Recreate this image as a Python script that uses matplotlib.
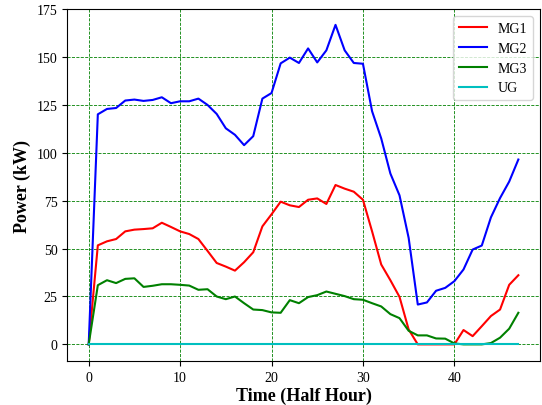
import numpy as np
import matplotlib
matplotlib.use("Agg")
import matplotlib.pyplot as plt

plt.rcParams['font.family'] = ['Liberation Serif', 'DejaVu Serif']

# half-hour slots 0..47
t = np.arange(48)

mg1 = [0, 51.7, 53.8, 55.0, 59.0, 59.9, 60.2, 60.6, 63.5, 61.3,
       59.0, 57.6, 55.0, 48.8, 42.5, 40.6, 38.5, 42.9, 48.1, 61.6,
       67.9, 74.5, 72.6, 71.7, 75.5, 76.2, 73.3, 83.2, 81.3, 79.7,
       75.5, 59.0, 41.7, 33.5, 24.8, 7.8, 0, 0, 0, 0,
       0, 7.5, 4.3, 9.5, 14.8, 18.2, 31.1, 36.1]
mg2 = [0, 120.1, 122.9, 123.4, 127.3, 127.8, 127.1, 127.6, 129.0, 125.9,
       126.9, 126.9, 128.3, 125.0, 120.3, 112.8, 109.4, 104.0, 108.7, 128.3,
       131.2, 146.7, 149.7, 146.9, 154.5, 147.2, 153.5, 166.8, 153.5, 146.9,
       146.5, 121.7, 107.5, 89.2, 77.8, 55.6, 20.8, 21.9, 28.0, 29.5,
       33.0, 39.1, 49.5, 51.6, 66.3, 76.4, 85.0, 96.5]
mg3 = [0, 30.9, 33.5, 32.0, 34.2, 34.5, 30.0, 30.6, 31.4, 31.4,
       31.1, 30.7, 28.5, 28.8, 25.0, 23.6, 25.0, 21.5, 18.2, 17.9,
       16.7, 16.5, 23.1, 21.5, 24.7, 25.7, 27.6, 26.4, 25.2, 23.6,
       23.3, 21.5, 19.8, 15.8, 13.7, 7.1, 4.7, 4.7, 3.1, 3.0,
       0.5, 0, 0, 0, 0.7, 3.5, 8.2, 16.5]
ug = [0] * 48

fig = plt.figure(figsize=(5.42, 4.06), dpi=100)
ax = fig.add_axes([0.124, 0.108, 0.872, 0.867])

ax.plot(t, mg1, color='r', linewidth=1.5, label='MG1')
ax.plot(t, mg2, color='b', linewidth=1.5, label='MG2')
ax.plot(t, mg3, color='g', linewidth=1.5, label='MG3')
ax.plot(t, ug, color='c', linewidth=1.5, label='UG')

ax.set_ylim(-8.75, 175)
ax.set_yticks(np.arange(0, 176, 25))
ax.set_xticks([0, 10, 20, 30, 40])
ax.grid(True, color='g', linestyle='--', linewidth=0.6)
ax.tick_params(labelsize=10)

ax.set_xlabel('Time (Half Hour)', fontsize=13, fontweight='bold', labelpad=2)
ax.set_ylabel('Power (kW)', fontsize=13, fontweight='bold', labelpad=4)
ax.legend(loc='upper right', fontsize=10)

fig.savefig('out.png', dpi=100)
